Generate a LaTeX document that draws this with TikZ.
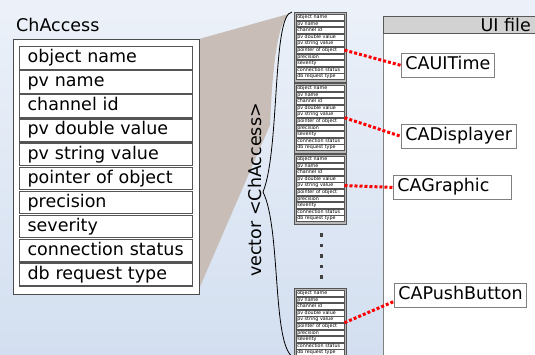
\documentclass[tikz,border=0pt]{standalone}
\usepackage{fontspec}
\setmainfont{DejaVu Sans}
\definecolor{bgtop}{RGB}{236,241,249}
\definecolor{bgbottom}{RGB}{211,223,240}
\definecolor{taupe}{RGB}{200,190,183}
\definecolor{framegray}{RGB}{85,85,85}
\newcommand{\chfont}{\fontsize{17.5}{20}\selectfont}
\newcommand{\minifont}{\fontsize{4.8}{5}\selectfont}
\newcommand{\chfields}{object name, pv name, channel id, pv double value, pv string value, pointer of object, precision, severity, connection status, db request type}
\begin{document}
\begin{tikzpicture}[x = 1pt, y = -1pt,
		field/.style = {draw = framegray, fill = white, line width = 1.2pt, anchor = north west, minimum width = 173pt, minimum height = 22.5pt, text width = 157pt, inner xsep = 8pt, inner ysep = 0pt, text height = 13pt, text depth = 3.5pt, font = \chfont, align = left},
		minifield/.style = {draw = framegray, fill = white, line width = 0.5pt, anchor = north west, minimum width = 48pt, minimum height = 5.8pt, text width = 46pt, inner xsep = 1pt, inner ysep = 0pt, text height = 3.6pt, text depth = 1.1pt, font = \minifont, align = left},
		widget/.style = {draw = gray, fill = white, line width = 0.8pt, anchor = north west, minimum height = 24pt, inner xsep = 4pt, text height = 13pt, text depth = 4pt, font = \chfont},
		link/.style = {red, line width = 3pt, dash pattern = on 3pt off 2pt}]
		\useasboundingbox (0,0) rectangle (535,354);
		\clip (0,0) rectangle (535,354);
		\shade[top color = bgtop, bottom color = bgbottom] (0,0) rectangle (535,354);
		\fill[taupe] (199,39) -- (292,13) .. controls (276,16) and (272,80) .. (270,125) -- (199,289) -- cycle;
		\draw[fill = white, draw = gray!60!black, line width = 1pt] (13,39) rectangle (199,294);
		\node[anchor = west, font = \chfont, inner sep = 0pt] (chaccess) at (16,25) {ChAccess};
		\foreach \lbl [count = \i from 0] in \chfields
			\node[field] (f\i) at (19, 46 + 24.1*\i) {\lbl};
		\draw[line width = 0.8pt] (292,12) .. controls (272,14) and (280,150) .. (263,192) .. controls (281,228) and (272,345) .. (293,357);
		\node[rotate = 90, font = \chfont, inner sep = 0pt] (vec) at (255,190) {vector <ChAccess>};
		\foreach \s/\sy in {1/12, 2/83, 3/154, 4/288} {
			\draw[fill = gray!55, draw = framegray, line width = 0.8pt] (294,\sy) rectangle (346,\sy + 70);
			\foreach \lbl [count = \i from 0] in \chfields
				\node[minifield] (s\s-\i) at (296, \sy + 2 + 6.6*\i) {\lbl};
		}
		\foreach \dy in {235, 245.5, 256, 266.5, 277}
			\fill[black!75] (319.5,\dy - 1.8) rectangle (323,\dy + 1.8);
		\draw[fill = white, draw = gray] (383,16) rectangle (545,360);
		\draw[fill = gray!35, draw = gray!70!black] (383,16) rectangle (545,33);
		\node[anchor = east, font = \chfont, inner sep = 0pt] (uifile) at (531,25) {UI file};
		\node[widget] (uitime) at (401,53) {CAUITime};
		\node[widget] (displayer) at (401,124) {CADisplayer};
		\node[widget, text width = 110pt] (graphic) at (393,175) {CAGraphic};
		\node[widget] (pushbutton) at (394,283) {CAPushButton};
		\draw[link] (s1-5.east) -- (uitime.west);
		\draw[link] (s2-4.south east) -- (displayer.west);
		\draw[link] (s3-4.east) -- (graphic.west);
		\draw[link] (s4-4.south east) -- ([yshift = -6pt]pushbutton.west);
%		\draw[link] (s4-5.east) -- (pushbutton.west);
	\end{tikzpicture}
\end{document}
